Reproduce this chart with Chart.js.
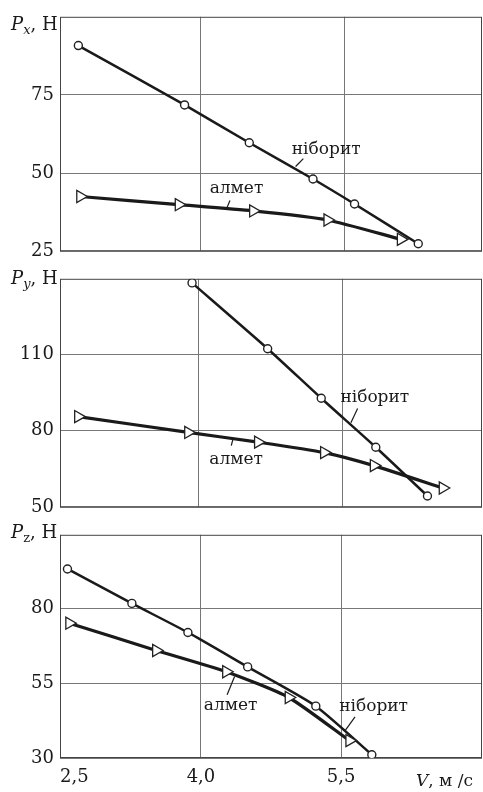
<!DOCTYPE html>
<html>
<head>
<meta charset="utf-8">
<script src="https://cdn.jsdelivr.net/npm/chart.js@4.4.0/dist/chart.umd.min.js"></script>
<style>
  body { margin: 0; background: #fff; }
  #wrap { position: relative; width: 483px; height: 792px; overflow: hidden; font-family: 'DejaVu Serif', serif; color: #1a1a1a; }
  .panel { position: absolute; left: 0; width: 483px; }
  .ttl { position: absolute; left: 11px; font-size: 18px; line-height: 1; z-index: 2; white-space: nowrap; }
  .ttl sub { font-size: 13px; vertical-align: -4px; line-height: 0; }
  .vlab { position: absolute; left: 416px; top: 772px; font-size: 17px; line-height: 1; z-index: 2; white-space: nowrap; }
</style>
</head>
<body>
<div id="wrap">
  <div class="panel" style="top:0;height:268px"><canvas id="chartPx"></canvas></div>
  <div class="panel" style="top:262px;height:262px"><canvas id="chartPy"></canvas></div>
  <div class="panel" style="top:518px;height:274px"><canvas id="chartPz"></canvas></div>
  <div class="ttl" style="top:15px"><i>P</i><sub><i>x</i></sub>, Н</div>
  <div class="ttl" style="top:269px"><i>P</i><sub><i>y</i></sub>, Н</div>
  <div class="ttl" style="top:523px"><i>P</i><sub>z</sub>, Н</div>
  <div class="vlab"><i>V</i>, м /с</div>
</div>
<script>
// Дані (швидкість V, м/с і сили, Н)
const xTicks = [2.5, 4.0, 5.5];

const pxTicks = [25, 50, 75];
const pxNiboritV = [2.74, 3.84, 4.51, 5.17, 5.60, 6.26];
const pxNiborit = [90.8, 71.8, 59.7, 48.1, 40.1, 27.4];
const pxAlmetV = [2.76, 3.78, 4.55, 5.32, 6.08];
const pxAlmet = [42.5, 39.9, 37.9, 35.0, 28.8];

const pyTicks = [50, 80, 110];
const pyNiboritV = [3.93, 4.72, 5.28, 5.85, 6.39];
const pyNiborit = [137.9, 112.1, 92.7, 73.5, 54.4];
const pyAlmetV = [2.74, 3.89, 4.62, 5.31, 5.83, 6.55];
const pyAlmet = [85.5, 79.3, 75.5, 71.4, 66.3, 57.5];

const pzTicks = [30, 55, 80];
const pzNiboritV = [2.57, 3.26, 3.86, 4.50, 5.23, 5.83];
const pzNiborit = [93.1, 81.6, 71.9, 60.4, 47.3, 31.1];
const pzAlmetV = [2.59, 3.52, 4.27, 4.94, 5.59];
const pzAlmet = [75.0, 65.9, 58.8, 50.2, 35.8];

const FONT = "'DejaVu Serif', serif";
const INK = '#1a1a1a';

function toPoints(xs, ys) {
    return xs.map((x, i) => ({ x: x, y: ys[i] }));
}

// Рамка навколо поля графіка + підписи кривих з виносками
const framePlugin = {
    id: 'frame',
    beforeDatasetsDraw(chart) {
        const a = chart.chartArea;
        const ctx = chart.ctx;
        ctx.save();
        ctx.strokeStyle = '#444';
        ctx.lineWidth = 1;
        ctx.strokeRect(a.left + 0.5, a.top + 0.5, a.right - a.left - 1, a.bottom - a.top - 1);
        ctx.restore();
    },
    afterDatasetsDraw(chart, args, opts) {
        const ctx = chart.ctx;
        const xs = chart.scales.x, ys = chart.scales.y;
        ctx.save();
        ctx.font = '17px ' + FONT;
        ctx.fillStyle = INK;
        ctx.strokeStyle = INK;
        ctx.lineWidth = 1.2;
        ctx.textBaseline = 'alphabetic';
        (opts.notes || []).forEach(n => {
            ctx.fillText(n.text, xs.getPixelForValue(n.x), ys.getPixelForValue(n.y));
            ctx.beginPath();
            ctx.moveTo(xs.getPixelForValue(n.l[0]), ys.getPixelForValue(n.l[1]));
            ctx.lineTo(xs.getPixelForValue(n.l[2]), ys.getPixelForValue(n.l[3]));
            ctx.stroke();
        });
        ctx.restore();
    }
};

function makePanel(id, o) {
    const ctx = document.getElementById(id).getContext('2d');
    return new Chart(ctx, {
        type: 'line',
        data: {
            datasets: [{
                label: 'алмет',
                data: toPoints(o.almetV, o.almet),
                borderColor: INK,
                borderWidth: 3.2,
                tension: 0.2,
                pointStyle: 'triangle',
                rotation: 90,
                pointRadius: 7,
                pointBackgroundColor: '#fff',
                pointBorderColor: '#222',
                pointBorderWidth: 1.3
            }, {
                label: 'ніборит',
                data: toPoints(o.niboritV, o.niborit),
                borderColor: INK,
                borderWidth: 2.5,
                tension: 0.2,
                pointStyle: 'circle',
                pointRadius: 4,
                pointBackgroundColor: '#fff',
                pointBorderColor: '#222',
                pointBorderWidth: 1.4
            }]
        },
        options: {
            responsive: true,
            maintainAspectRatio: false,
            animation: false,
            layout: { autoPadding: false, padding: { top: o.padTop, left: 0, right: 1, bottom: 0 } },
            plugins: {
                legend: { display: false },
                tooltip: { enabled: false },
                frame: { notes: o.notes }
            },
            scales: {
                x: {
                    type: 'linear',
                    min: o.xMin,
                    max: o.xMax,
                    afterBuildTicks: s => { s.ticks = xTicks.filter(v => v >= o.xMin).map(v => ({ value: v })); },
                    afterFit: s => { s.height = o.xHeight; },
                    border: { display: false },
                    grid: { color: '#777', lineWidth: 1, drawTicks: false },
                    ticks: {
                        display: o.showX,
                        padding: 9,
                        color: INK,
                        font: { family: FONT, size: 18 },
                        callback: v => (v === 2.5 ? '\u2002\u2002\u2002' : '') + v.toFixed(1).replace('.', ',')
                    }
                },
                y: {
                    type: 'linear',
                    min: o.yMin,
                    max: o.yMax,
                    afterBuildTicks: s => { s.ticks = o.yTicks.map(v => ({ value: v })); },
                    afterFit: s => { s.width = 60; },
                    border: { display: false },
                    grid: { color: '#777', lineWidth: 1, drawTicks: false },
                    ticks: {
                        padding: 6,
                        color: INK,
                        font: { family: FONT, size: 18 }
                    }
                }
            }
        },
        plugins: [framePlugin]
    });
}

makePanel('chartPx', {
    niboritV: pxNiboritV, niborit: pxNiborit, almetV: pxAlmetV, almet: pxAlmet,
    xMin: 2.55, xMax: 6.92, yMin: 25, yMax: 100, yTicks: pxTicks,
    padTop: 14, xHeight: 13, showX: false,
    notes: [
        { text: 'ніборит', x: 4.95, y: 56.1, l: [5.07, 54.6, 4.99, 52.1] },
        { text: 'алмет', x: 4.10, y: 43.7, l: [4.31, 41.2, 4.28, 39.0] }
    ]
});

makePanel('chartPy', {
    niboritV: pyNiboritV, niborit: pyNiborit, almetV: pyAlmetV, almet: pyAlmet,
    xMin: 2.55, xMax: 6.96, yMin: 50, yMax: 139.5, yTicks: pyTicks,
    padTop: 10, xHeight: 14, showX: false,
    notes: [
        { text: 'ніборит', x: 5.48, y: 91.4, l: [5.66, 88.7, 5.59, 83.1] },
        { text: 'алмет', x: 4.11, y: 66.9, l: [4.34, 74.1, 4.36, 77.1] }
    ]
});

makePanel('chartPz', {
    niboritV: pzNiboritV, niborit: pzNiborit, almetV: pzAlmetV, almet: pzAlmet,
    xMin: 2.49, xMax: 7.01, yMin: 30, yMax: 104.5, yTicks: pzTicks,
    padTop: 7, xHeight: 34, showX: true,
    notes: [
        { text: 'алмет', x: 4.03, y: 46.0, l: [4.28, 51.1, 4.36, 57.2] },
        { text: 'ніборит', x: 5.48, y: 45.7, l: [5.65, 43.7, 5.54, 39.0] }
    ]
});
</script>
</body>
</html>
